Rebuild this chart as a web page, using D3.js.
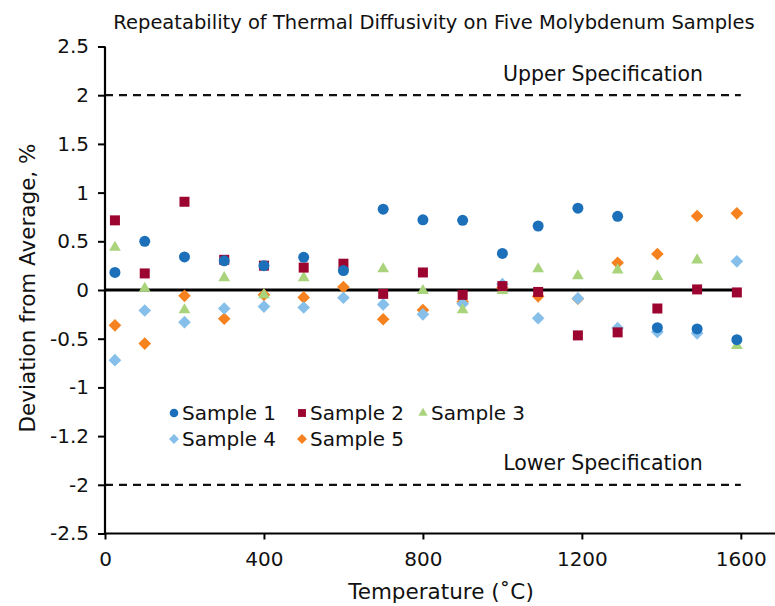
<!DOCTYPE html>
<html>
<head>
<meta charset="utf-8">
<script src="https://cdn.jsdelivr.net/npm/d3@7"></script>
<style>
  html, body { margin: 0; padding: 0; background: #fff; }
  svg { display: block; }
  text { font-family: "DejaVu Sans", sans-serif; fill: #111; }
</style>
</head>
<body>
<script>
// ---- data ----
const temperatures = [25, 100, 200, 300, 400, 500, 600, 700, 800, 900, 1000, 1090, 1190, 1290, 1390, 1490, 1590];
const sample1 = [0.18, 0.50, 0.34, 0.30, 0.25, 0.335, 0.20, 0.83, 0.72, 0.715, 0.376, 0.657, 0.84, 0.756, -0.387, -0.40, -0.51];
const sample2 = [0.715, 0.17, 0.906, 0.31, 0.25, 0.23, 0.27, -0.04, 0.18, -0.05, 0.04, -0.02, -0.466, -0.435, -0.19, 0.006, -0.025];
const sample3 = [0.437, 0.016, -0.205, 0.126, -0.05, 0.126, 0.24, 0.216, -0.007, -0.205, -0.007, 0.216, 0.144, 0.205, 0.137, 0.308, -0.57];
const sample4 = [-0.72, -0.21, -0.33, -0.19, -0.17, -0.18, -0.08, -0.148, -0.25, -0.14, 0.06, -0.29, -0.086, -0.39, -0.43, -0.445, 0.294];
const sample5 = [-0.363, -0.55, -0.06, -0.295, -0.05, -0.076, 0.03, -0.30, -0.205, -0.12, 0.02, -0.065, -0.09, 0.28, 0.37, 0.76, 0.787];
const seriesNames = ["Sample 1", "Sample 2", "Sample 3", "Sample 4", "Sample 5"];
const yTickValues = [-2.5, -2, -1.5, -1, -0.5, 0, 0.5, 1, 1.5, 2, 2.5];
const yTickLabels = ["-2.5", "-2", "-1.2", "-1", "-0.5", "0", "0.5", "1", "1.5", "2", "2.5"];
const xTickValues = [0, 400, 800, 1200, 1600];
const specLimits = [2, -2];
const specLabels = ["Upper Specification", "Lower Specification"];
const titleText = "Repeatability of Thermal Diffusivity on Five Molybdenum Samples";
const xTitle = "Temperature (˚C)";
const yTitle = "Deviation from Average, %";

// ---- styles ----
const colors = ["#1c6fb9", "#9b0530", "#a9d47c", "#86c0ea", "#f5821f"];
const W = 775, H = 606;

const svg = d3.select("body").append("svg").attr("width", W).attr("height", H);

const x = d3.scaleLinear().domain([0, 1686]).range([105, 775]);
const y = d3.scaleLinear().domain([-2.5, 2.5]).range([533.5, 46.5]);

// title
svg.append("text").attr("x", 434).attr("y", 29).attr("text-anchor", "middle")
  .style("font-size", "19.5px").text(titleText);

// spec lines
specLimits.forEach((v, i) => {
  svg.append("line")
    .attr("x1", x(0)).attr("x2", x(1600))
    .attr("y1", y(v)).attr("y2", y(v))
    .attr("stroke", "#111").attr("stroke-width", 2.2)
    .attr("stroke-dasharray", "8,6");
  svg.append("text")
    .attr("x", 603).attr("y", y(v) - 14.5)
    .attr("text-anchor", "middle").style("font-size", "20.5px")
    .text(specLabels[i]);
});

// zero line
svg.append("line")
  .attr("x1", x(0)).attr("x2", x(1600))
  .attr("y1", y(0)).attr("y2", y(0))
  .attr("stroke", "#000").attr("stroke-width", 3);

// axes
const yAxis = d3.axisLeft(y).tickValues(yTickValues)
  .tickFormat((d, i) => yTickLabels[i]).tickSize(7).tickSizeOuter(0).tickPadding(9);
const gy = svg.append("g").attr("transform", `translate(${x(0)},0)`).call(yAxis);
const xAxis = d3.axisBottom(x).tickValues(xTickValues).tickFormat(d3.format("d"))
  .tickSize(6).tickSizeOuter(0).tickPadding(12);
const gx = svg.append("g").attr("transform", `translate(0,${y(-2.5)})`).call(xAxis);

[gx, gy].forEach(g => {
  g.select(".domain").attr("stroke", "#000").attr("stroke-width", 2.2);
  g.selectAll(".tick line").attr("stroke", "#000").attr("stroke-width", 2);
  g.selectAll(".tick text").style("font-size", "20px").style("font-family", "DejaVu Sans").attr("fill", "#111");
});
gx.select(".domain").attr("d", `M${x(0)},0H${W}`);
gy.select(".domain").attr("d", `M0,${y(2.5)}V${y(-2.5)}`);

// axis titles
svg.append("text").attr("x", 441).attr("y", 599).attr("text-anchor", "middle")
  .style("font-size", "21.5px").text(xTitle);
svg.append("text").attr("transform", `translate(35,${y(0) - 2}) rotate(-90)`)
  .attr("text-anchor", "middle").style("font-size", "21.5px").text(yTitle);

// markers
const symbolFns = [
  s => d3.symbol(d3.symbolCircle, 95 * s)(),
  s => d3.symbol(d3.symbolSquare, 100 * s)(),
  s => d3.symbol(d3.symbolTriangle, 60 * s)(),
  s => d3.symbol(d3.symbolSquare, 80 * s)(),
  s => d3.symbol(d3.symbolSquare, 80 * s)()
];
const rotations = [0, 0, 0, 45, 45];
const allSeries = [sample1, sample2, sample3, sample4, sample5];

// draw in reverse order (sample 5 first, sample 1 on top)
for (let si = allSeries.length - 1; si >= 0; si--) {
  svg.append("g").selectAll("path")
    .data(temperatures.map((t, i) => ({ t, v: allSeries[si][i] })))
    .join("path")
    .attr("d", symbolFns[si](1))
    .attr("transform", d => `translate(${x(d.t)},${y(d.v)}) rotate(${rotations[si]})`)
    .attr("fill", colors[si]);
}

// legend
const legendPos = [[174, 413], [302, 413], [423, 413], [174, 439], [302, 439]];
seriesNames.forEach((name, i) => {
  const [lx, ly] = legendPos[i];
  svg.append("path")
    .attr("d", symbolFns[i](0.62))
    .attr("transform", `translate(${lx},${ly}) rotate(${rotations[i]})`)
    .attr("fill", colors[i]);
  svg.append("text").attr("x", lx + 8).attr("y", ly + 7)
    .style("font-size", "20px").text(name);
});
</script>
</body>
</html>
